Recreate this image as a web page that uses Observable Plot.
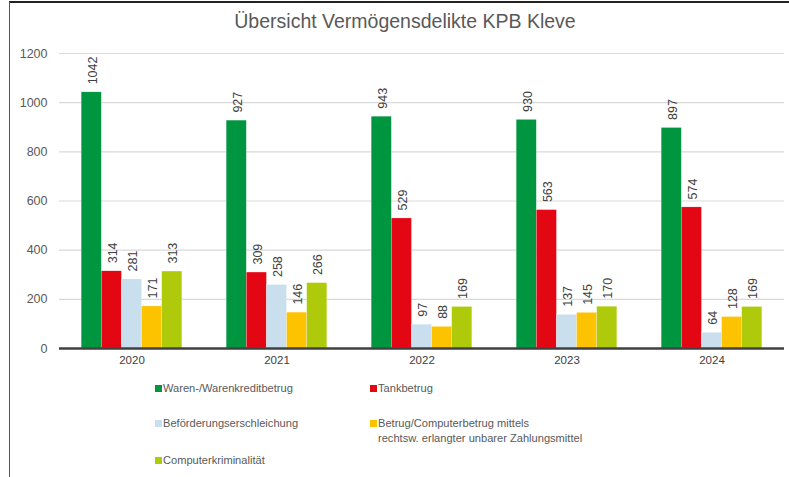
<!DOCTYPE html>
<html>
<head>
<meta charset="utf-8">
<script src="https://cdn.jsdelivr.net/npm/d3@7"></script>
<script src="https://cdn.jsdelivr.net/npm/@observablehq/plot@0.6"></script>
<style>
  html, body { margin: 0; padding: 0; background: #fff; }
  body { width: 789px; height: 477px; position: relative; overflow: hidden; font-family: "Liberation Sans", Arial, sans-serif; }
  #frame { position: absolute; left: 9px; top: 1px; right: -5px; bottom: -5px; border-left: 1.5px solid #555; border-top: 2px solid #222; pointer-events: none; }
  #title { position: absolute; left: 0; width: 810px; top: 10px; text-align: center; font-size: 19.5px; color: #595959; }
  #chart { position: absolute; left: 0; top: 40px; }
  #legend { position: absolute; left: 0; top: 0; width: 789px; height: 477px; pointer-events: none; }
  .item { position: absolute; font-size: 11.1px; color: #595959; white-space: pre-line; line-height: 15px; }
  .sw { position: absolute; left: -8px; top: 4px; width: 7px; height: 7px; }
</style>
</head>
<body>
<div id="frame"></div>
<div id="title">Übersicht Vermögensdelikte KPB Kleve</div>
<div id="chart"></div>
<div id="legend"></div>
<script>
const years = ["2020", "2021", "2022", "2023", "2024"];
const seriesNames = [
  "Waren-/Warenkreditbetrug",
  "Tankbetrug",
  "Beförderungserschleichung",
  "Betrug/Computerbetrug mittels\nrechtsw. erlangter unbarer Zahlungsmittel",
  "Computerkriminalität"
];
const seriesColors = ["#009640", "#e30613", "#c9dfee", "#fdc300", "#afca0b"];
const waren = [1042, 927, 943, 930, 897];
const tank = [314, 309, 529, 563, 574];
const befoerderung = [281, 258, 97, 137, 64];
const betrug = [171, 146, 88, 145, 128];
const computer = [313, 266, 169, 170, 169];
const yTicks = [0, 200, 400, 600, 800, 1000, 1200];

const seriesValues = [waren, tank, befoerderung, betrug, computer];
const data = [];
years.forEach((yr, i) => {
  seriesNames.forEach((s, j) => {
    data.push({year: yr, series: s, value: seriesValues[j][i]});
  });
});

const chart = Plot.plot({
  width: 789,
  height: 338,
  marginTop: 13,
  marginBottom: 30,
  marginLeft: 58,
  marginRight: 4,
  style: {fontFamily: "Liberation Sans, Arial, sans-serif", color: "#595959", background: "transparent"},
  fx: {domain: years, padding: 0, label: null, axis: null},
  x: {domain: seriesNames, paddingInner: 0, paddingOuter: 1.1, round: false, axis: null},
  y: {domain: [0, 1200], ticks: yTicks, label: null, axis: null},
  color: {domain: seriesNames, range: seriesColors},
  marks: [
    Plot.ruleY(yTicks.filter(d => d > 0), {stroke: "#d9d9d9", strokeWidth: 1.2}),
    Plot.axisY({ticks: yTicks, tickFormat: d => String(d), tickSize: 0, tickPadding: 12, fontSize: 12.5, label: null, fill: "#595959", facetAnchor: "left"}),
    Plot.barY(data, {fx: "year", x: "series", y: "value", fill: "series", stroke: "#ffffff", strokeWidth: 0.4, strokeOpacity: 0.6}),
    Plot.text(data, {fx: "year", x: "series", y: "value", text: d => String(d.value), rotate: -90, textAnchor: "start", dy: -8, dx: 1, fontSize: 12.5, fill: "#404040"}),
    Plot.ruleY([0], {stroke: "#404040", strokeWidth: 2.5}),
    Plot.axisFx({anchor: "bottom", tickSize: 0, tickPadding: 7, fontSize: 11.5, label: null, fill: "#404040"})
  ]
});
document.getElementById("chart").appendChild(chart);

// legend built from the series arrays
const legendPos = [
  {left: 163, top: 381},
  {left: 378, top: 381},
  {left: 163, top: 416},
  {left: 378, top: 416},
  {left: 163, top: 453}
];
const legend = document.getElementById("legend");
seriesNames.forEach((s, j) => {
  const it = document.createElement("div");
  it.className = "item";
  it.style.left = legendPos[j].left + "px";
  it.style.top = legendPos[j].top + "px";
  const sw = document.createElement("span");
  sw.className = "sw";
  sw.style.background = seriesColors[j];
  it.appendChild(sw);
  it.appendChild(document.createTextNode(s));
  legend.appendChild(it);
});
</script>
</body>
</html>
